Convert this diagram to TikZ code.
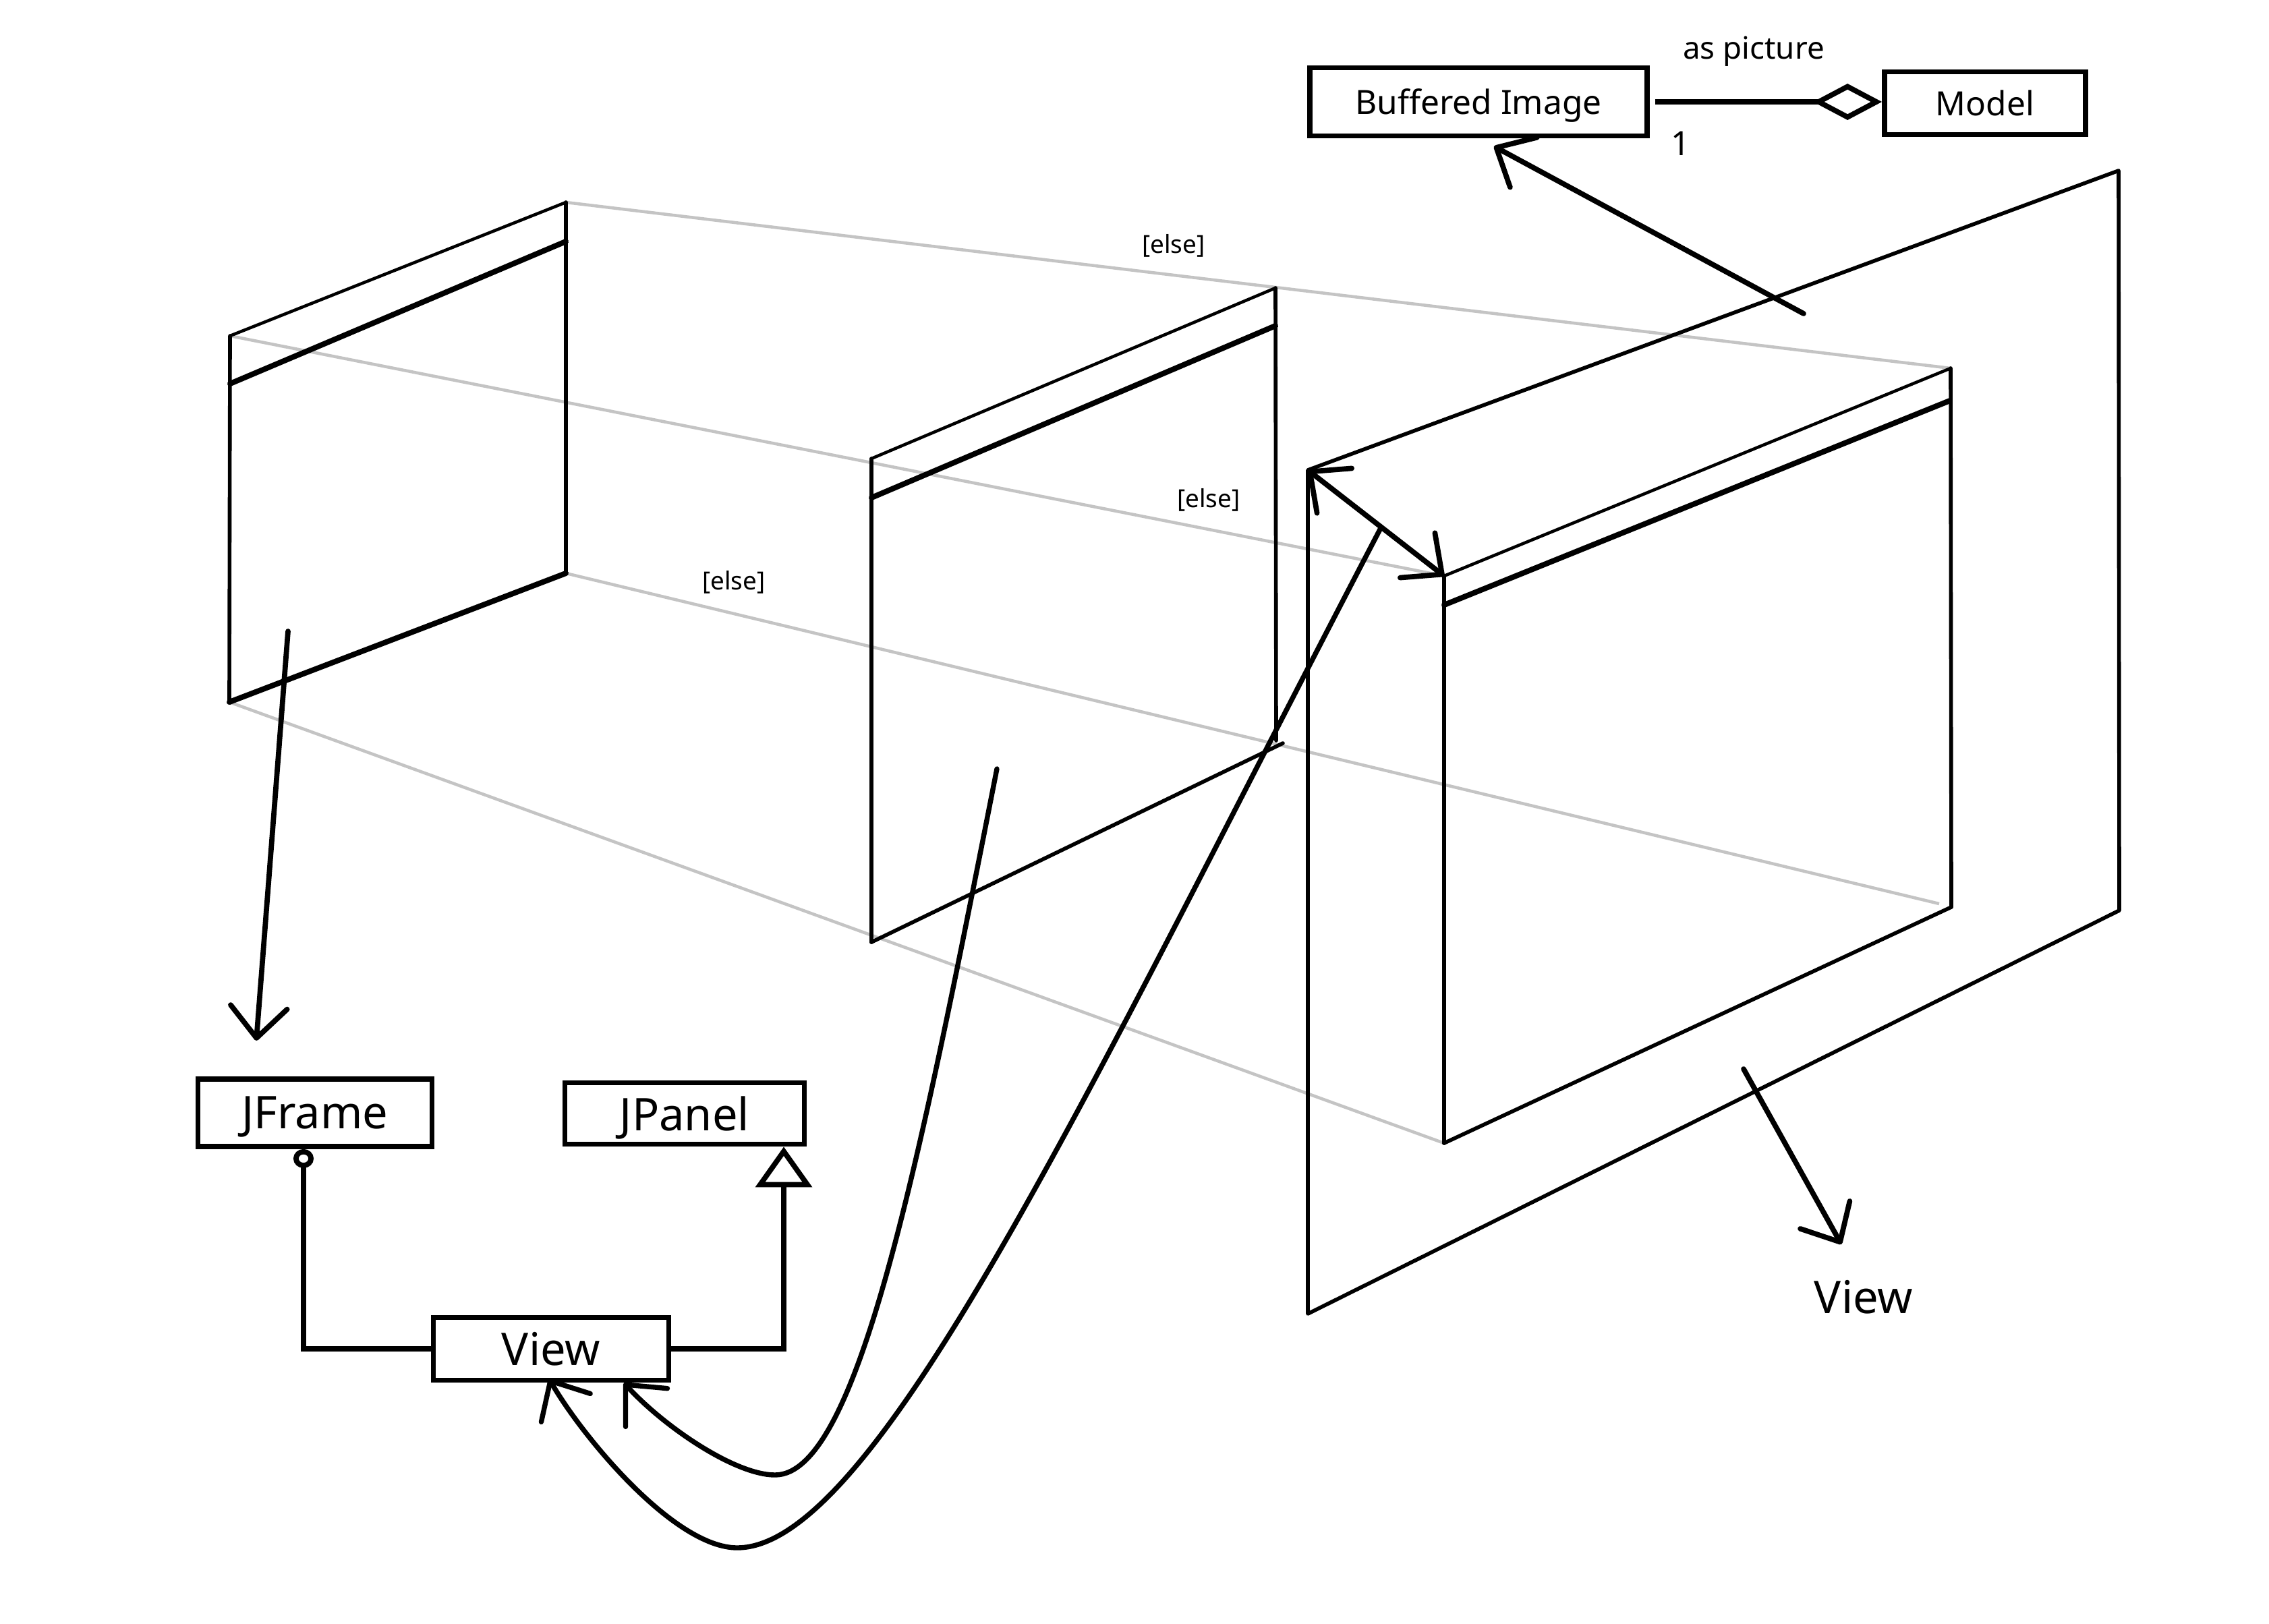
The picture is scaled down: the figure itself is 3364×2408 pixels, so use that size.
\documentclass[tikz,border=0pt]{standalone}
\usepackage{fontspec}
\setmainfont{Noto Sans}
\usetikzlibrary{arrows.meta}
\definecolor{guide}{RGB}{196,196,196}
\begin{document}
\begin{tikzpicture}[x=0.1mm,y=-0.1mm,
  box/.style={draw,line width=2.2pt,inner sep=0pt,text depth=0pt},
  bigfont/.style={font=\fontsize{19}{22}\selectfont},
  midfont/.style={font=\fontsize{14.1}{17}\selectfont},
  elsefont/.style={font=\fontsize{10.5}{12}\selectfont},
  thinl/.style={line width=1.3pt,line cap=round},
  medl/.style={line width=1.6pt,line cap=round},
  thickl/.style={line width=2.3pt,line cap=round},
  grayl/.style={line width=1.3pt,draw=guide},
  conn/.style={line width=2.2pt},
  arrowl/.style={line width=2.2pt,line cap=round},
  curvel/.style={line width=2.1pt,line cap=round},
  vbarb/.style={-{Straight Barb[length=4.6mm,width=8.4mm,round]}},
  dbarb/.style={{Straight Barb[length=4.6mm,width=8.4mm,round]}-{Straight Barb[length=4.6mm,width=8.4mm,round]}}
]
\useasboundingbox (0,0) rectangle (3364,2408);

% frame corners
\coordinate (F1a) at (341,498);  \coordinate (F1b) at (839,300);
\coordinate (F1c) at (341,569);  \coordinate (F1d) at (839,358);
\coordinate (F1e) at (839,850);  \coordinate (F1f) at (340,1041);
\coordinate (F2a) at (1292,680); \coordinate (F2b) at (1891,427);
\coordinate (F2c) at (1292,738); \coordinate (F2d) at (1891,483);
\coordinate (F2e) at (1892,1098);\coordinate (F2g) at (1902,1102);
\coordinate (F2f) at (1292,1397);
\coordinate (F3a) at (2141,854); \coordinate (F3b) at (2892,546);
\coordinate (F3c) at (2141,897); \coordinate (F3d) at (2891,594);
\coordinate (F3e) at (2893,1345);\coordinate (F3f) at (2141,1695);
\coordinate (Oa) at (1939,697);  \coordinate (Ob) at (3141,253);
\coordinate (Oc) at (3142,1350); \coordinate (Od) at (1939,1948);
\coordinate (G3e) at (2875,1340);

% perspective guide lines
\draw[grayl] (F1b) -- (F3b);
\draw[grayl] (F1a) -- (F3a);
\draw[grayl] (F1e) -- (G3e);
\draw[grayl] (F1f) -- (F3f);

% frame 1
\draw[thinl] (F1a) -- (F1b);
\draw[thickl] (F1c) -- (F1d);
\draw[medl] (F1a) -- (F1f);
\draw[medl] (F1b) -- (F1e);
\draw[thickl] (F1f) -- (F1e);
% frame 2
\draw[thinl] (F2a) -- (F2b);
\draw[thickl] (F2c) -- (F2d);
\draw[medl] (F2a) -- (F2f);
\draw[medl] (F2b) -- (F2e);
\draw[medl] (F2f) -- (F2g);
% frame 3
\draw[thinl] (F3a) -- (F3b);
\draw[thickl] (F3c) -- (F3d);
\draw[medl] (F3a) -- (F3f);
\draw[medl] (F3b) -- (F3e);
\draw[medl] (F3f) -- (F3e);
% outer panel
\draw[medl,line join=round] (Oa) -- (Ob) -- (Oc) -- (Od) -- cycle;

% labels
\node[elsefont,anchor=base] (else1) at (1740,375) {[else]};
\node[elsefont,anchor=base] (else2) at (1792,752) {[else]};
\node[elsefont,anchor=base] (else3) at (1088,874) {[else]};

% class boxes
\node[box,midfont,minimum width=50mm,minimum height=10.1mm] (BI) at (2192,151) {Buffered Image};
\node[box,midfont,minimum width=29.8mm,minimum height=9.3mm] (Model) at (2943,153) {Model};
\node[box,bigfont,minimum width=34.7mm,minimum height=10mm] (JFrame) at (467,1650) {JFrame};
\node[box,bigfont,minimum width=35.5mm,minimum height=9.1mm] (JPanel) at (1015,1651) {JPanel};
\node[box,bigfont,minimum width=34.9mm,minimum height=9.3mm] (View) at (817,2000) {View};

\node[font=\fontsize{13}{15}\selectfont,anchor=base] (asp) at (2600,87) {as picture};
\node[midfont,anchor=base] (one) at (2492,230) {1};
\node[bigfont,anchor=base] (vlab) at (2763,1947) {View};

% UML connectors
\draw[conn,-{Diamond[open,length=10.2mm,width=5.4mm]}] ([xshift=0.8mm]BI.east) -- (Model.west |- BI.east);
\draw[conn,{Circle[open,length=2.8mm,width=3mm]}-] ([xshift=-1.7mm]JFrame.south) |- (View.west);
\draw[conn,-{Triangle[open,length=6mm,width=8.3mm]}] (View.east) -| ([xshift=14.7mm]JPanel.south);

% sketch arrows
\coordinate (a1s) at (427,936);   \coordinate (a1e) at (380,1543);
\coordinate (a2s) at (2674,465);  \coordinate (a2e) at (2215,217);
\coordinate (a3s) at (2585,1585); \coordinate (a3e) at (2730,1845);
\draw[arrowl,vbarb] (a1s) -- (a1e);
\draw[arrowl,vbarb] (a2s) -- (a2e);
\draw[arrowl,vbarb] (a3s) -- (a3e);
\draw[arrowl,dbarb] (Oa) -- (F3a);

% curved arrows to View
\coordinate (c1s) at (2047,783);
\coordinate (c2s) at (1478,1140);
\draw[curvel,vbarb] (c1s) .. controls (1620,1600) and (1300,2295) .. (1093,2295)
  .. controls (1000,2295) and (864,2131) .. ([xshift=-0.3mm,yshift=0.6mm]View.south);
\draw[curvel,vbarb] (c2s) .. controls (1360,1740) and (1270,2187) .. (1149,2187)
  .. controls (1090,2187) and (985,2116) .. ([xshift=10.8mm,yshift=0mm]View.south);
\end{tikzpicture}
\end{document}
